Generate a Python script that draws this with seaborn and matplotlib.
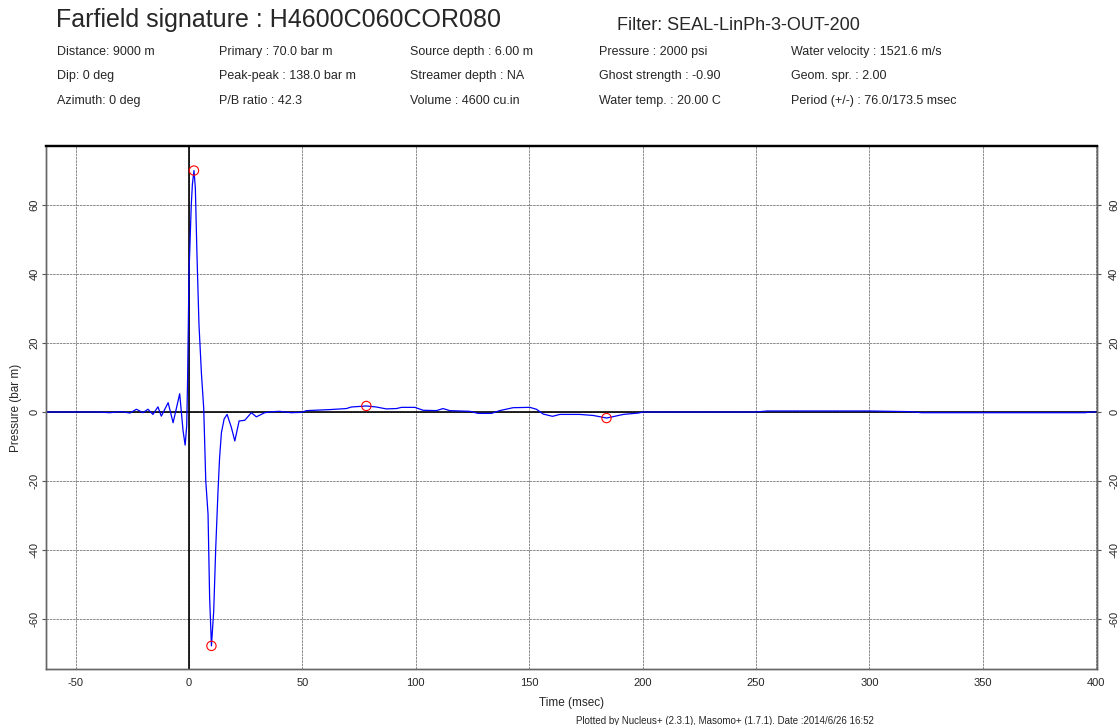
"""Farfield signature plot: pressure vs time with header info block."""

import numpy as np
import pandas as pd
import matplotlib
matplotlib.use("Agg")
import matplotlib.pyplot as plt
import seaborn as sns


# Data.
time_ms = [-63, -40, -35, -30, -26, -23.2, -20.3, -18.1, -15.9, -13.7, -12.2, -9.2, -7.0,
           -4.1, -2.6, -1.7, -1.0, -0.6, -0.3, 0, 0.5, 1.0, 1.5, 2.2, 2.8, 3.5, 4.4, 5.5,
           6.5, 7.4, 8.4, 9.1, 9.9, 10.9, 11.8, 12.8, 13.5, 14.3, 15.5, 16.8, 18.7, 20.2,
           22.1, 24.6, 27.5, 29.7, 33.4, 37, 40, 45, 49.6, 51.8, 62.1, 69.4, 71.6, 78.2,
           82.6, 87, 91.5, 93.7, 99.6, 103.2, 109.1, 112, 115, 123.8, 127.5, 133.4, 137,
           142.9, 150.3, 153.2, 156.2, 160.3, 163.5, 172.3, 178.2, 181.9, 184.1, 187,
           191.5, 198.1, 200.3, 250, 255, 300, 318, 323, 395, 398, 400]
pressure = [0, 0, -0.2, 0.1, -0.3, 0.8, -0.2, 0.8, -0.7, 1.5, -1.2, 2.7, -3.1,
            5.3, -5.5, -9.6, -4, 10, 25, 40, 50, 60, 66, 70, 65, 46, 25.4, 11,
            1, -20, -29.6, -53.8, -67.8, -57.7, -39.3, -22.9, -13.2, -6, -2, -0.7, -4.5, -8.4,
            -2.6, -2.4, -0.2, -1.4, -0.2, 0.1, 0.2, -0.2, -0.1, 0.4, 0.7, 1.0, 1.45, 1.75,
            1.45, 0.9, 1.0, 1.35, 1.35, 0.5, 0.4, 1.0, 0.4, 0.2, -0.4, -0.4, 0.4,
            1.25, 1.35, 0.8, -0.6, -1.25, -0.7, -0.7, -1.0, -1.45, -1.75, -1.35,
            -0.7, -0.3, 0, 0, 0.3, 0.3, 0.1, -0.2, -0.2, 0, 0]

# Picked peaks (red circles).
peak_time = [2.2, 9.9, 78.2, 184.1]
peak_pressure = [70, -67.8, 1.75, -1.75]

x_ticks = [-50, 0, 50, 100, 150, 200, 250, 300, 350, 400]
y_ticks = [-60, -40, -20, 0, 20, 40, 60]

title = "Farfield signature : H4600C060COR080"
filter_text = "Filter: SEAL-LinPh-3-OUT-200"
info_columns = [
    ["Distance: 9000 m", "Dip: 0 deg", "Azimuth: 0 deg"],
    ["Primary : 70.0 bar m", "Peak-peak : 138.0 bar m", "P/B ratio : 42.3"],
    ["Source depth : 6.00 m", "Streamer depth : NA", "Volume : 4600 cu.in"],
    ["Pressure : 2000 psi", "Ghost strength : -0.90", "Water temp. : 20.00 C"],
    ["Water velocity : 1521.6 m/s", "Geom. spr. : 2.00", "Period (+/-) : 76.0/173.5 msec"],
]
footer = "Plotted by Nucleus+ (2.3.1), Masomo+ (1.7.1). Date :2014/6/26 16:52"

df = pd.DataFrame({"Time": time_ms, "Pressure": pressure})
df_peaks = pd.DataFrame({"Time": peak_time, "Pressure": peak_pressure})


# Style.
sns.set_style("white")
plt.rcParams["font.family"] = ["Liberation Sans", "DejaVu Sans"]
plt.rcParams["axes.unicode_minus"] = False

fig = plt.figure(figsize=(11.19, 7.25), dpi=100)
ax = fig.add_axes([0.0408, 0.0768, 0.9398, 0.7222])

# Zero lines.
ax.axhline(0, color="black", lw=1.2, zorder=1)
ax.axvline(0, color="black", lw=1.2, zorder=1)

# Signature trace and picked peaks.
sns.lineplot(data=df, x="Time", y="Pressure", color="blue", lw=0.9, sort=False,
             estimator=None, ax=ax, zorder=3)
sns.scatterplot(data=df_peaks, x="Time", y="Pressure", marker="o", s=45,
                facecolor="none", edgecolor="red", linewidth=0.8, ax=ax, zorder=4)

ylim = (-74.6, 77.2)
ax.set_xlim(-63.2, 400.5)
ax.set_ylim(*ylim)
ax.set_xticks(x_ticks)
ax.set_yticks(y_ticks)
ax.grid(True, color="#777777", linestyle=(0, (3, 1)), lw=0.6)

ax.tick_params(axis="both", labelsize=8, length=3, color="#555555", direction="out")
ax.tick_params(axis="x", pad=3.5)
ax.tick_params(axis="y", left=True, labelleft=True, labelrotation=90, pad=1.6)
for lab in ax.get_yticklabels():
    lab.set_verticalalignment("center")

# Right-hand pressure axis (same scale).
ax2 = ax.twinx()
ax2.set_ylim(*ylim)
ax2.set_yticks(y_ticks)
ax2.grid(False)
ax2.tick_params(axis="y", right=True, labelright=True, labelsize=8, length=3,
                color="#555555", direction="out", labelrotation=90, pad=5.6)
for lab in ax2.get_yticklabels():
    lab.set_verticalalignment("center")

for a in (ax, ax2):
    for side in ["left", "right", "bottom"]:
        a.spines[side].set_color("#666666")
        a.spines[side].set_linewidth(1)
    a.spines["top"].set_color("black")
    a.spines["top"].set_linewidth(1.6)

ax.set_xlabel("Time (msec)", fontsize=8.5, labelpad=6)
ax.set_ylabel("Pressure (bar m)", fontsize=8.5, labelpad=5)

# Header block.
fig.text(0.0497, 0.9623, title, fontsize=18, va="baseline")
fig.text(0.5514, 0.9586, filter_text, fontsize=13, va="baseline")
col_x = [0.0512, 0.1961, 0.3661, 0.5357, 0.7070]
row_y = [0.9241, 0.8906, 0.8561]
for cx, col in zip(col_x, info_columns):
    for ry, txt in zip(row_y, col):
        fig.text(cx, ry, txt, fontsize=9, va="baseline")

fig.text(0.648, 0.0055, footer, fontsize=7, ha="center", va="center")

plt.savefig("out.png", dpi=100)
